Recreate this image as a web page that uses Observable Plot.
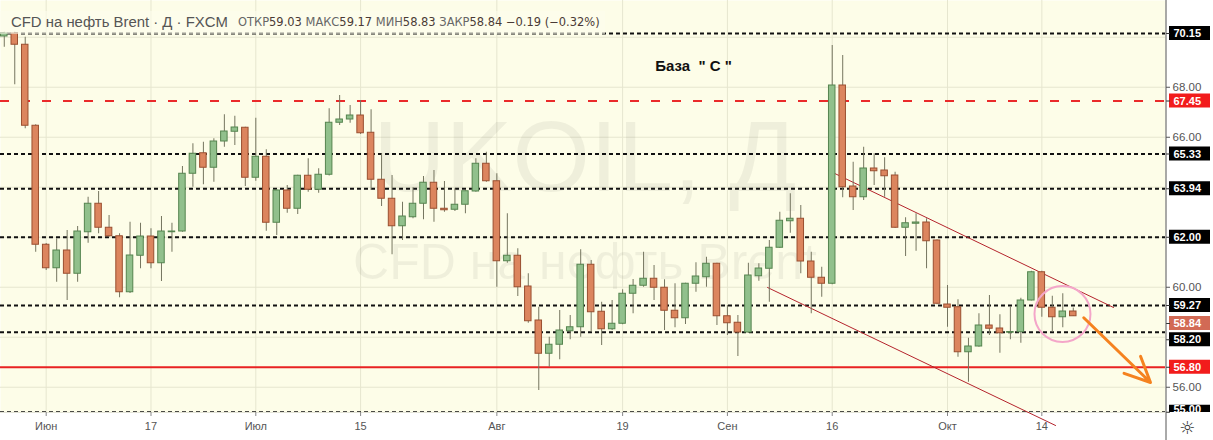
<!DOCTYPE html>
<html><head><meta charset="utf-8">
<script src="https://cdn.jsdelivr.net/npm/d3@7"></script>
<script src="https://cdn.jsdelivr.net/npm/@observablehq/plot@0.6"></script>
<style>
body{margin:0;background:#fff;}
#wrap{position:relative;width:1213px;height:440px;overflow:hidden;}
#hdrbg{position:absolute;left:0;top:11px;height:23px;width:605px;background:rgba(253,253,236,0.6);}
.hx{position:absolute;top:11px;height:23px;line-height:23px;white-space:nowrap;}
#ttl{left:11px;font-family:"Liberation Sans",Arial,sans-serif;font-size:15px;color:#555;}
#stats{left:238px;font-family:"DejaVu Sans",sans-serif;font-size:12px;}
#stats .l{color:#666;}
#stats .v{color:#4a3a35;}
#gear{position:absolute;left:1179px;top:419px;font-family:"DejaVu Sans",sans-serif;font-size:18px;color:#333;line-height:18px;}
</style></head>
<body><div id="wrap"><div id="chart"></div><div id="hdrbg"></div><div id="ttl" class="hx"></div><div id="stats" class="hx"></div><div id="gear">☼</div></div>
<script>
// ---- data (daily candles, trading days from startDate) ----
const startDate = "2019-05-28";
const open = [
 70.03,70.15,69.70,66.46, 61.70,60.76,61.47,60.54,62.20,63.34,62.38,62.04,59.80,61.26,
 62.03,60.96,62.20,62.23,64.54,65.36,64.78,65.83,66.22,66.38,64.38,65.22,62.58,63.87,
 63.14,64.46,63.90,64.50,66.58,66.71,66.87,66.18,64.30,63.54,62.44,62.80,63.34,64.18,
 63.14,63.10,63.30,63.83,64.94,64.24,61.04,61.26,60.03,58.67,57.34,57.70,58.24,58.40,
 60.90,59.02,58.32,58.54,59.74,60.06,60.34,59.98,59.06,58.76,60.14,60.40,60.94,58.84,
 58.58,58.19,60.44,60.74,61.58,62.64,62.74,61.03,60.38,60.14,68.07,64.03,63.60,64.75,
 64.67,64.47,62.38,62.54,62.59,61.87,59.31,59.20,57.40,57.63,58.47,58.35,58.18,58.20,
 59.47,60.60,59.18,58.80,59.03];
const high = [
 70.20,70.20,70.00,66.50, 61.75,61.94,62.27,62.43,63.60,63.83,62.87,62.14,62.60,62.56,
 62.34,62.83,62.56,64.83,65.74,65.80,65.94,66.90,66.84,66.40,66.76,65.50,63.90,64.07,
 64.48,65.14,64.74,67.14,67.67,67.27,67.47,67.10,65.34,64.47,63.40,63.98,64.43,64.67,
 64.23,63.94,63.86,65.14,65.40,64.54,62.94,61.54,60.54,59.20,58.00,59.07,58.87,61.50,
 61.07,59.40,59.47,59.90,60.31,61.40,60.87,60.30,60.14,60.16,60.98,61.20,60.96,59.27,
 58.87,60.96,60.94,61.87,63.00,63.74,63.27,61.40,60.80,69.67,69.27,65.00,65.60,65.34,
 65.18,64.60,62.78,62.94,62.74,61.90,60.07,59.50,57.96,58.94,59.67,58.90,59.23,59.56,
 60.64,60.64,59.64,59.74,59.17];
const low = [
 69.60,68.10,66.34,61.40, 60.67,60.20,59.47,60.20,61.76,62.14,62.00,59.58,59.75,60.74,
 60.74,60.23,61.40,62.20,64.00,64.10,64.20,65.60,65.67,64.03,64.24,62.24,62.07,62.96,
 62.91,63.80,63.76,64.45,66.47,66.56,66.11,63.87,63.23,61.30,61.87,62.74,62.70,62.60,
 63.00,63.03,62.94,63.80,64.20,60.00,60.96,59.63,58.56,55.87,56.80,57.10,57.90,58.00,
 58.20,57.67,58.27,58.50,58.94,60.00,59.47,58.27,58.38,58.51,59.80,60.00,58.47,58.07,
 57.23,58.15,60.24,59.40,61.55,62.16,60.54,58.94,59.60,60.10,63.58,63.07,63.47,64.07,
 63.60,62.35,61.23,61.44,60.74,59.30,58.40,57.20,56.20,57.60,58.07,57.36,57.90,57.76,
 59.45,58.80,58.20,58.38,58.83];
const close = [
 70.15,69.70,66.46,61.70, 60.76,61.47,60.54,62.23,63.34,62.38,62.04,59.80,61.27,62.03,
 60.96,62.23,62.23,64.54,65.34,64.78,65.83,66.23,66.39,64.38,65.22,62.58,63.87,63.14,
 64.46,63.90,64.50,66.58,66.71,66.87,66.16,64.30,63.54,62.44,62.83,63.34,64.18,63.14,
 63.08,63.30,63.84,64.94,64.24,61.04,61.26,60.00,58.64,57.34,57.70,58.27,58.40,60.90,
 59.00,58.32,58.54,59.74,60.06,60.34,59.98,59.06,58.76,60.14,60.43,60.94,58.84,58.56,
 58.19,60.47,60.75,61.58,62.66,62.74,61.03,60.38,60.14,68.07,64.00,63.60,64.75,64.64,
 64.44,62.38,62.56,62.59,61.84,59.34,59.18,57.40,57.63,58.47,58.34,58.16,58.21,59.47,
 60.60,59.18,58.80,59.03,58.84];

const tickDates  = ["2019-06-03","2019-06-17","2019-07-01","2019-07-15","2019-08-01","2019-08-19","2019-09-02","2019-09-16","2019-10-01","2019-10-14"];
const tickLabels = ["Июн","17","Июл","15","Авг","19","Сен","16","Окт","14"];

const blackLevels = [70.15, 65.33, 63.94, 62.00, 59.27, 58.20, 55.00];
const redDashLevels = [67.45];
const redSolidLevels = [56.80];
const priceTicks = [56, 60, 66, 68];
const gridPrices = [56, 58, 60, 62, 64, 66, 68, 70];
const labelValues = [70.15, 67.45, 65.33, 63.94, 62.00, 59.27, 58.84, 58.20, 56.80, 55.00];
const labelAt     = [70.15, 67.45, 65.33, 63.94, 62.00, 59.27, 58.55, 57.90, 56.80, 55.00];

const title = "CFD на нефть Brent · Д · FXCM";
const baseText = "База  \" С \"";
const baseAt = [65.77, 68.83];
const upperTrend = [[78.65, 64.67], [105.84, 59.19]];
const lowerTrend = [[72.83, 59.99], [100.31, 54.47]];
const circleAt = [100.97, 58.93];
const arrowSeg = [[103.0, 58.78], [109.37, 56.19]];
const watermark1 = "UKOIL, Д";
const watermark2 = "CFD на нефть Brent";

// ---- build ----
function tradingDays(start, n) {
  const out = []; const d = new Date(start + "T00:00:00Z");
  while (out.length < n) {
    const wd = d.getUTCDay();
    if (wd !== 0 && wd !== 6) out.push(d.toISOString().slice(0, 10));
    d.setUTCDate(d.getUTCDate() + 1);
  }
  return out;
}
const dates = tradingDays(startDate, open.length);
const candles = dates.map((date, k) => ({k, date, open: open[k], high: high[k], low: low[k], close: close[k]}));
const up = candles.filter(d => d.close >= d.open);
const down = candles.filter(d => d.close < d.open);
const tickK = tickDates.map(t => dates.indexOf(t));
const tickMap = new Map(tickK.map((k, i) => [k, tickLabels[i]]));

const W = 1213, H = 440, mR = 48, mB = 28;
const xDom = [-0.36, 110.8], yDom = [54.99, 71.47];
const xs = Plot.scale({x: {type: "linear", domain: xDom, range: [0, W - mR]}});
const ys = Plot.scale({y: {type: "linear", domain: yDom, range: [H - mB, 0]}});
const boxX1 = xs.invert(W - mR + 4), boxX2 = xs.invert(W - 3), edgeX = xs.invert(W);
const bottomY = ys.invert(H);
const halfBox = (ys.invert(0) - ys.invert(7));

const last = candles[candles.length - 1];
const prev = candles[candles.length - 2];
const chg = last.close - prev.close;
const lastPrice = last.close;
const labels = labelValues.map((v, i) => ({v, at: labelAt[i], edge: i === labelValues.length - 1}));
const boxColor = v => redDashLevels.includes(v) || redSolidLevels.includes(v) ? "#f21c1c" : (v === lastPrice ? "#d26a55" : "#000");

const chart = Plot.plot({
  width: W, height: H, marginLeft: 0, marginRight: mR, marginTop: 0, marginBottom: mB,
  x: {type: "linear", domain: xDom, axis: null},
  y: {type: "linear", domain: yDom, axis: null},
  style: {background: "#fff", fontFamily: "'Liberation Sans', Arial, sans-serif", overflow: "visible"},
  marks: [
    Plot.frame({fill: "#fdfde8", stroke: null}),
    Plot.gridY({ticks: gridPrices, stroke: "#e6e6cf", strokeOpacity: 1}),
    Plot.gridX({ticks: tickK, stroke: "#e6e6cf", strokeOpacity: 1}),
    Plot.text([watermark1], {frameAnchor: "top", dy: 158, dx: 2, lineAnchor: "middle", text: d => d, fontSize: 100, fill: "#000", fillOpacity: 0.055}),
    Plot.text([watermark2], {frameAnchor: "top", dy: 262, dx: 2, lineAnchor: "middle", text: d => d, fontSize: 50, fill: "#000", fillOpacity: 0.055}),
    Plot.ruleY(redSolidLevels, {stroke: "#e82222", strokeWidth: 2}),
    Plot.ruleY(blackLevels, {stroke: "#111", strokeWidth: 2, strokeDasharray: "4,3"}),
    Plot.ruleY(redDashLevels, {stroke: "#ea2a2a", strokeWidth: 2, strokeDasharray: "9,12"}),
    Plot.rect(labels, {x1: boxX1, x2: boxX2, y1: d => d.at - halfBox, y2: d => d.at + halfBox, fill: d => boxColor(d.v)}),
    Plot.text(labels.filter(d => !d.edge), {x: boxX1, y: "at", text: d => d.v.toFixed(2), textAnchor: "start", dx: 4, fill: "#fff", fontWeight: "bold", fontSize: 11}),
    Plot.text(labels.filter(d => d.edge), {x: boxX1, y: "at", text: d => d.v.toFixed(2), textAnchor: "start", dx: 4, dy: -3, fill: "#fff", fontWeight: "bold", fontSize: 11}),
    Plot.rect([0], {x1: xDom[0], x2: edgeX, y1: bottomY, y2: yDom[0], fill: "#fff"}),
    Plot.ruleY([0], {y: yDom[0], stroke: "#c8c8b0", strokeWidth: 1, strokeOpacity: 0.5}),
    Plot.axisX({ticks: tickK, tickFormat: d => tickMap.get(d), tickSize: 4, tickPadding: 6, fontSize: 11, color: "#555", stroke: "#888", label: null}),
    Plot.axisY({anchor: "right", ticks: priceTicks, tickFormat: d => d.toFixed(2), tickSize: 4, tickPadding: 3, fontSize: 11.5, color: "#555", label: null}),
    Plot.axisY({anchor: "right", ticks: labelAt, tickFormat: () => "", tickSize: 4, color: "#333", label: null}),
    Plot.ruleX([0], {x: xs.invert(W - mR + 0.5), y1: bottomY, y2: yDom[1], stroke: "#555", strokeWidth: 1}),
    Plot.line(upperTrend, {x: d => d[0], y: d => d[1], stroke: "#b4232c", strokeWidth: 1}),
    Plot.line(lowerTrend, {x: d => d[0], y: d => d[1], stroke: "#b4232c", strokeWidth: 1}),
    Plot.ruleX(candles, {x: "k", y1: "low", y2: "high", stroke: "#75755f", strokeWidth: 1}),
    Plot.rect(up, {x1: d => d.k - 0.31, x2: d => d.k + 0.31, y1: "open", y2: "close", fill: "#91c08c", stroke: "#55844f", strokeWidth: 1}),
    Plot.rect(down, {x1: d => d.k - 0.31, x2: d => d.k + 0.31, y1: "open", y2: "close", fill: "#dc855e", stroke: "#9a4f30", strokeWidth: 1}),
    Plot.dot([circleAt], {x: d => d[0], y: d => d[1], r: 28, stroke: "#f4a6c9", strokeWidth: 2, fill: "none"}),
    Plot.arrow([arrowSeg], {x1: d => d[0][0], y1: d => d[0][1], x2: d => d[1][0], y2: d => d[1][1], stroke: "#f5821f", strokeWidth: 3, headLength: 14, headAngle: 50}),
    Plot.text([baseText], {x: baseAt[0], y: baseAt[1], text: d => d, fontSize: 15, fontWeight: "bold", fill: "#111"})
  ]
});
document.getElementById("chart").appendChild(chart);

const fmt = v => v.toFixed(2);
const sign = v => (v < 0 ? "\u2212" : "+") + Math.abs(v).toFixed(2);
const ttl = document.getElementById("ttl");
ttl.textContent = title;
const stats = document.getElementById("stats");
stats.innerHTML =
  `<span class="l">ОТКР</span><span class="v">${fmt(last.open)}</span> ` +
  `<span class="l">МАКС</span><span class="v">${fmt(last.high)}</span> ` +
  `<span class="l">МИН</span><span class="v">${fmt(last.low)}</span> ` +
  `<span class="l">ЗАКР</span><span class="v">${fmt(last.close)}</span> ` +
  `<span class="v">${sign(chg)} (${sign(chg / prev.close * 100)}%)</span>`;
// fit header texts to the reference widths
function fit(el, target) {
  const fs = parseFloat(getComputedStyle(el).fontSize);
  const w = el.getBoundingClientRect().width;
  if (w > 0) el.style.fontSize = (fs * target / w).toFixed(2) + "px";
}
fit(ttl, 217);
fit(stats, 362);
</script>
</body></html>
